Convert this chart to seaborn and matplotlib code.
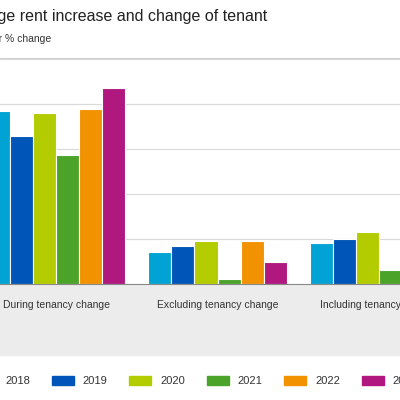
import matplotlib
matplotlib.use('Agg')
import matplotlib.pyplot as plt
import seaborn as sns
import pandas as pd
from matplotlib.patches import Rectangle

categories = ['During tenancy change', 'Excluding tenancy change', 'Including tenancy change']
years = ['2018', '2019', '2020', '2021', '2022', '2023']
colors = ['#00a3d4', '#0055b8', '#b3cc00', '#4ca32a', '#f39200', '#b0177f']
values = {
    '2018': [3.84, 0.71, 0.91],
    '2019': [3.29, 0.84, 1.00],
    '2020': [3.80, 0.96, 1.16],
    '2021': [2.87, 0.11, 0.31],
    '2022': [3.89, 0.96, 1.10],
    '2023': [4.36, 0.49, 0.80],
}

rows = [(c, y, values[y][i]) for y in years for i, c in enumerate(categories)]
df = pd.DataFrame(rows, columns=['category', 'year', 'value'])

sns.set_style('white')
plt.rcParams['font.family'] = ['Liberation Sans', 'DejaVu Sans']
fig = plt.figure(figsize=(4, 4), dpi=100)

# grey band under the plot
fig.patches.append(Rectangle((0, 45/400), 1, 71/400, transform=fig.transFigure,
                             color='#ececec', zorder=-5))

ax = fig.add_axes([0, 116/400, 1, 225/400])
sns.barplot(data=df, x='category', y='value', hue='year', palette=colors, saturation=1,
            width=6/7, edgecolor='white', linewidth=0.8, ax=ax, legend=False)
ax.set_xlim(-0.347, 2.13)
ax.set_ylim(0, 5)
ax.set_yticks([1, 2, 3, 4, 5])
ax.yaxis.grid(True, color='#d9d9d9', linewidth=0.8)
ax.set_axisbelow(True)
for s in ['top', 'right', 'left']:
    ax.spines[s].set_visible(False)
ax.spines['bottom'].set_color('#888888')
ax.set_yticklabels([])
ax.tick_params(left=False, bottom=False)
ax.set_xlabel('')
ax.set_ylabel('')
ax.set_xticks(range(3))
ax.set_xticklabels(categories, fontsize=7.5, color='#333333')
ax.tick_params(axis='x', pad=8)

fig.text(-44/400, 1 - 16/400, 'Average rent increase and change of tenant',
         fontsize=11.5, color='#222222', va='center')
fig.text(-19/400, 1 - 39/400, 'Year % change', fontsize=7.5, color='#333333', va='center')
fig.add_artist(plt.Line2D([0, 1], [1 - 58/400, 1 - 58/400], color='#d0d0d0', lw=0.8))

# legend
for i, (y, c) in enumerate(zip(years, colors)):
    x0 = -26 + 77.5 * i
    fig.patches.append(Rectangle((x0/400, 1 - 385/400), 22/400, 9/400,
                                 transform=fig.transFigure, color=c))
    fig.text((x0 + 31)/400, 1 - 381/400, y, fontsize=8, color='#333333', va='center')

fig.savefig('out.png', dpi=100)
